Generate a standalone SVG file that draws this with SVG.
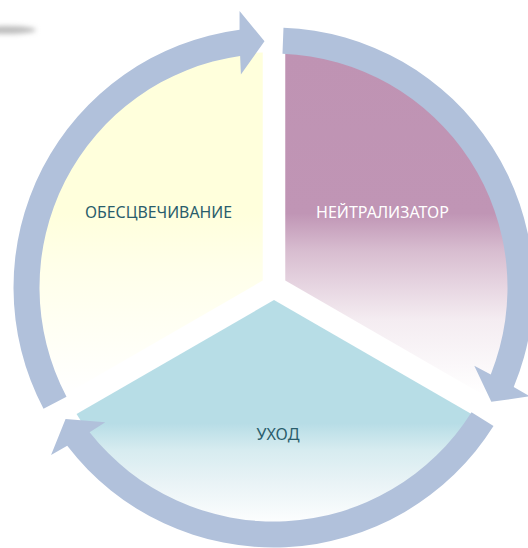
<svg xmlns="http://www.w3.org/2000/svg" width="528" height="548" viewBox="0 0 528 548">
  <defs>
    <linearGradient id="gYellow" x1="0" y1="0" x2="0" y2="1">
      <stop offset="0" stop-color="#FFFFDC"/>
      <stop offset="0.47" stop-color="#FFFFDC"/>
      <stop offset="0.62" stop-color="#FFFFE9"/>
      <stop offset="1" stop-color="#FFFFFF"/>
    </linearGradient>
    <linearGradient id="gPurple" x1="0" y1="0" x2="0" y2="1">
      <stop offset="0" stop-color="#BF93B3"/>
      <stop offset="0.47" stop-color="#C095B5"/>
      <stop offset="0.58" stop-color="#D8BDD0"/>
      <stop offset="0.78" stop-color="#F4ECF1"/>
      <stop offset="1" stop-color="#FFFFFF"/>
    </linearGradient>
    <linearGradient id="gBlue" x1="0" y1="0" x2="0" y2="1">
      <stop offset="0" stop-color="#B7DDE6"/>
      <stop offset="0.54" stop-color="#B7DDE6"/>
      <stop offset="0.66" stop-color="#D7ECF0"/>
      <stop offset="0.8" stop-color="#E9F3F6"/>
      <stop offset="1" stop-color="#FFFFFF"/>
    </linearGradient>
    <filter id="blur" x="-50%" y="-200%" width="200%" height="500%">
      <feGaussianBlur stdDeviation="2.5"/>
    </filter>
  </defs>
  <style>
    .arrow { fill: #B1C1DB; stroke: none; }
    .label { font-family: "Noto Sans", "Open Sans", "DejaVu Sans", sans-serif; font-size: 15.5px; text-anchor: middle; }
    .dark { fill: #2A5D6C; }
    .light { fill: #FFFFFF; }
  </style>

  <rect width="528" height="548" fill="#FFFFFF"/>
  <ellipse cx="6" cy="30" rx="30" ry="4" fill="#BDBDBD" filter="url(#blur)"/>

  <g id="node-obescvechivanie">
    <path d="M262.74,280.5 L65.29,394.5 A228,228 0 0 1 262.74,52.5 Z" fill="url(#gYellow)"/>
    <text class="label dark" x="158.5" y="218" textLength="147" lengthAdjust="spacingAndGlyphs">ОБЕСЦВЕЧИВАНИЕ</text>
  </g>

  <g id="node-neitralizator">
    <path d="M285.26,280.5 L285.26,52.5 A228,228 0 0 1 482.71,394.5 Z" fill="url(#gPurple)"/>
    <text class="label light" x="382.5" y="218" textLength="133" lengthAdjust="spacingAndGlyphs">НЕЙТРАЛИЗАТОР</text>
  </g>

  <g id="node-uhod">
    <path d="M274,300 L471.45,414 A228,228 0 0 1 76.55,414 Z" fill="url(#gBlue)"/>
    <text class="label dark" x="278" y="440" textLength="43" lengthAdjust="spacingAndGlyphs">УХОД</text>
  </g>

  <g id="connectors">
    <path class="arrow" d="M43.51,408.76 A260,260 0 0 1 239.56,29.73 L239.56,11.08 L264.5,41.2 L240.90,74.48 L240.12,55.89 A234,234 0 0 0 66.51,396.63 Z"/>
    <path class="arrow" d="M283.48,27.69 A260,260 0 0 1 513.71,387.00 L529.86,396.32 L491.31,401.85 L474.28,365.78 L490.77,374.40 A234,234 0 0 0 282.48,53.67 Z"/>
    <path class="arrow" d="M493.51,426.05 A260,260 0 0 1 67.23,445.78 L51.08,455.11 L65.57,418.95 L105.32,422.24 L89.61,432.21 A234,234 0 0 0 471.51,412.19 Z"/>
  </g>
</svg>
